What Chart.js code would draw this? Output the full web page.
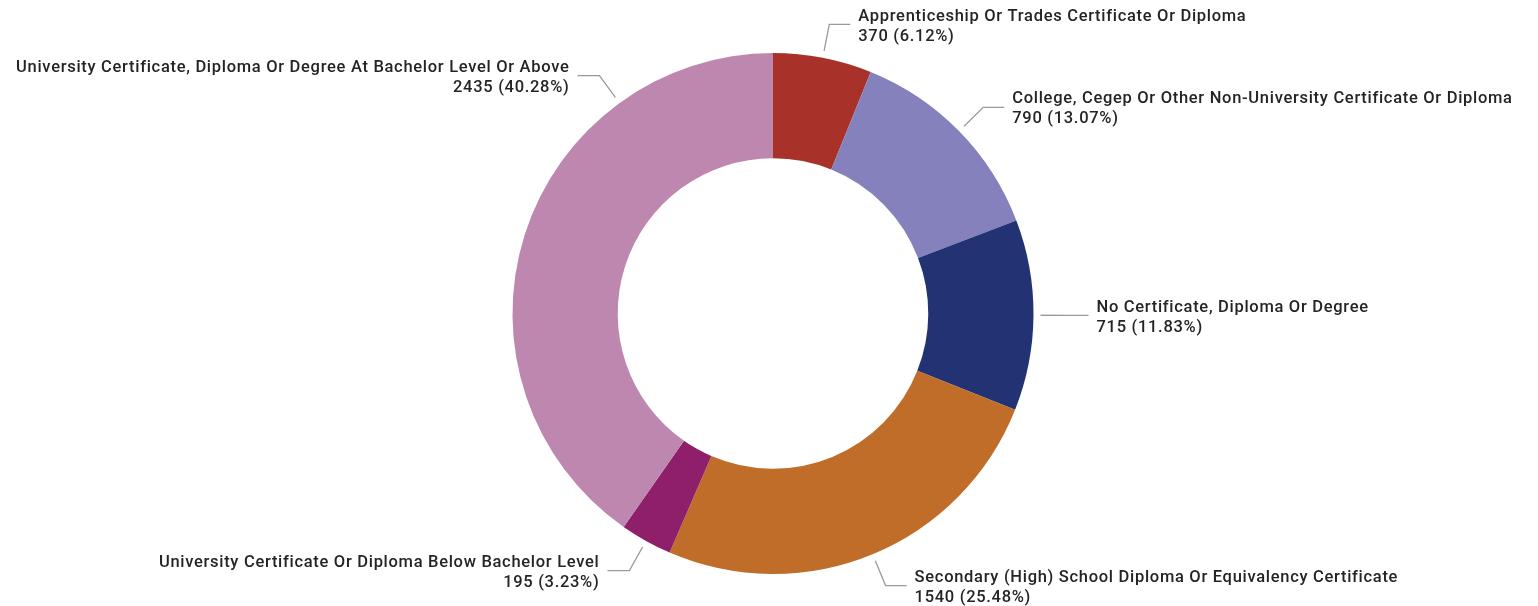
<!DOCTYPE html>
<html>
<head>
<meta charset="utf-8">
<script src="https://cdn.jsdelivr.net/npm/chart.js@4.4.1/dist/chart.umd.min.js"></script>
<style>
  html, body { margin: 0; padding: 0; background: #ffffff; }
  #wrap { width: 1538px; height: 606px; position: relative; }
</style>
</head>
<body>
<div id="wrap"><canvas id="c"></canvas></div>
<script>
const categories = [
  "Apprenticeship Or Trades Certificate Or Diploma",
  "College, Cegep Or Other Non-University Certificate Or Diploma",
  "No Certificate, Diploma Or Degree",
  "Secondary (High) School Diploma Or Equivalency Certificate",
  "University Certificate Or Diploma Below Bachelor Level",
  "University Certificate, Diploma Or Degree At Bachelor Level Or Above"
];
const values = [370, 790, 715, 1540, 195, 2435];
const colors = ["#A83229", "#8581BD", "#233272", "#BF6D29", "#8F1F6A", "#BE87B0"];
// label anchor angle overrides (degrees clockwise from top), null = slice middle
const labelAngles = [null, null, null, null, null, 323.9];

const FONT = '500 16.5px Roboto, "DejaVu Sans", sans-serif';

const labelPlugin = {
  id: 'donutLabels',
  afterDraw(chart) {
    const ctx = chart.ctx;
    const meta = chart.getDatasetMeta(0);
    const total = values.reduce((a, b) => a + b, 0);
    ctx.save();
    ctx.font = FONT;
    if ('letterSpacing' in ctx) ctx.letterSpacing = '0.7px';
    ctx.lineWidth = 1.3;
    ctx.strokeStyle = '#9a9a9a';
    ctx.fillStyle = '#252423';
    ctx.textBaseline = 'middle';
    meta.data.forEach((arc, i) => {
      const p = arc.getProps(['x', 'y', 'startAngle', 'endAngle', 'outerRadius'], true);
      let a = (p.startAngle + p.endAngle) / 2;
      if (labelAngles[i] !== null) a = labelAngles[i] * Math.PI / 180 - Math.PI / 2;
      const r1 = p.outerRadius + 7;
      const r2 = p.outerRadius + 34;
      const x1 = p.x + Math.cos(a) * r1, y1 = p.y + Math.sin(a) * r1;
      const x2 = p.x + Math.cos(a) * r2, y2 = p.y + Math.sin(a) * r2;
      const right = Math.cos(a) >= 0;
      const x3 = x2 + (right ? 21 : -22);
      ctx.beginPath();
      ctx.moveTo(x1, y1);
      ctx.lineTo(x2, y2);
      ctx.lineTo(x3, y2);
      ctx.stroke();
      const tx = x3 + (right ? 8 : -8);
      ctx.textAlign = right ? 'left' : 'right';
      const pct = (values[i] / total * 100).toFixed(2);
      ctx.fillText(categories[i], tx, y2 - 8);
      ctx.fillText(values[i] + ' (' + pct + '%)', tx, y2 + 12);
    });
    ctx.restore();
  }
};

new Chart(document.getElementById('c'), {
  type: 'doughnut',
  data: {
    labels: categories,
    datasets: [{
      data: values,
      backgroundColor: colors,
      borderWidth: 0,
      hoverOffset: 0
    }]
  },
  options: {
    responsive: true,
    maintainAspectRatio: false,
    animation: false,
    cutout: '59.6%',
    layout: { padding: { top: 53, bottom: 32, left: 400, right: 392 } },
    plugins: {
      legend: { display: false },
      tooltip: { enabled: false },
      title: { display: false }
    }
  },
  plugins: [labelPlugin]
});
</script>
</body>
</html>
